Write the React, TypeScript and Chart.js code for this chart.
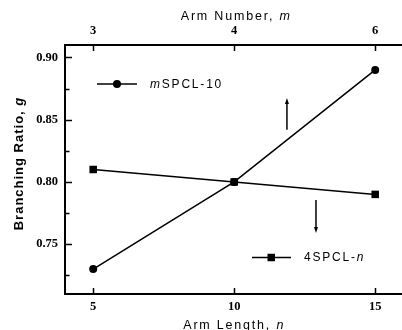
import React, { useEffect, useRef } from "react";
import { Chart, registerables } from "chart.js";

Chart.register(...registerables);

const armLength = [5, 10, 15];
const armNumberLabels = ["3", "4", "6"];
const mSPCL10 = [0.73, 0.8, 0.89];
const fourSPCLn = [0.81, 0.8, 0.79];
const yMajorTicks = [0.75, 0.8, 0.85, 0.9];
const yMinorTicks = [0.725, 0.775, 0.825, 0.875];

const SANS = '"Liberation Sans", Arial, sans-serif';
const SERIF = '"Liberation Serif", "Times New Roman", serif';

type Seg = { t: string; italic?: boolean };

function drawSegs(
  ctx: CanvasRenderingContext2D,
  segs: Seg[],
  x: number,
  y: number,
  size: number,
  bold: boolean,
  spacing: number,
  align: "left" | "center"
) {
  ctx.save();
  (ctx as any).letterSpacing = spacing + "px";
  ctx.textAlign = "left";
  ctx.fillStyle = "#000";
  const fontOf = (s: Seg) =>
    `${s.italic ? "italic " : ""}${bold ? "bold " : ""}${size}px ${SANS}`;
  let total = 0;
  const widths = segs.map((s) => {
    ctx.font = fontOf(s);
    const w = ctx.measureText(s.t).width;
    total += w;
    return w;
  });
  let cx = align === "center" ? x - total / 2 : x;
  segs.forEach((s, i) => {
    ctx.font = fontOf(s);
    ctx.fillText(s.t, cx, y);
    cx += widths[i];
  });
  ctx.restore();
}

const decorPlugin = {
  id: "decor",
  afterDraw(chart: any) {
    const ctx: CanvasRenderingContext2D = chart.ctx;
    const { left, top, bottom } = chart.chartArea;
    const edge = chart.width;
    const xs = chart.scales.x;
    const ys = chart.scales.y;
    ctx.save();
    ctx.strokeStyle = "#000";
    ctx.fillStyle = "#000";
    // frame
    ctx.lineWidth = 2;
    ctx.beginPath();
    ctx.moveTo(edge, top);
    ctx.lineTo(left, top);
    ctx.lineTo(left, bottom);
    ctx.lineTo(edge, bottom);
    ctx.stroke();
    // ticks
    ctx.lineWidth = 1.5;
    ctx.beginPath();
    yMajorTicks.forEach((v) => {
      const py = Math.round(ys.getPixelForValue(v)) + 0.5;
      ctx.moveTo(left, py);
      ctx.lineTo(left + 7, py);
    });
    yMinorTicks.forEach((v) => {
      const py = Math.round(ys.getPixelForValue(v)) + 0.5;
      ctx.moveTo(left, py);
      ctx.lineTo(left + 4.5, py);
    });
    armLength.forEach((v) => {
      const px = Math.round(xs.getPixelForValue(v)) + 0.5;
      ctx.moveTo(px, bottom);
      ctx.lineTo(px, bottom - 6);
      ctx.moveTo(px, top);
      ctx.lineTo(px, top + 6);
    });
    ctx.stroke();

    // arrows
    const arrow = (xv: number, y0: number, y1: number) => {
      const px = xs.getPixelForValue(xv);
      const p0 = ys.getPixelForValue(y0);
      const p1 = ys.getPixelForValue(y1);
      const dir = p1 < p0 ? -1 : 1;
      ctx.lineWidth = 1.5;
      ctx.beginPath();
      ctx.moveTo(px, p0);
      ctx.lineTo(px, p1 - dir * 4);
      ctx.stroke();
      ctx.beginPath();
      ctx.moveTo(px, p1);
      ctx.lineTo(px - 2, p1 - dir * 6);
      ctx.lineTo(px + 2, p1 - dir * 6);
      ctx.closePath();
      ctx.fill();
    };
    arrow(11.87, 0.842, 0.8675);
    arrow(12.9, 0.7856, 0.759);

    // legends
    const l1y = top + 39;
    ctx.lineWidth = 1.5;
    ctx.beginPath();
    ctx.moveTo(left + 32, l1y);
    ctx.lineTo(left + 72, l1y);
    ctx.stroke();
    ctx.beginPath();
    ctx.arc(left + 52, l1y, 4, 0, Math.PI * 2);
    ctx.fill();
    ctx.textBaseline = "middle";
    drawSegs(ctx, [{ t: "m", italic: true }, { t: "SPCL-10" }], left + 85, l1y + 0.5, 12, false, 1.8, "left");

    const l2y = top + 212.5;
    ctx.beginPath();
    ctx.moveTo(left + 187, l2y);
    ctx.lineTo(left + 226, l2y);
    ctx.stroke();
    ctx.fillRect(left + 202.5, l2y - 3.75, 7.5, 7.5);
    drawSegs(ctx, [{ t: "4SPCL-" }, { t: "n", italic: true }], left + 239, l2y + 0.5, 12, false, 1.8, "left");

    // axis titles
    ctx.textBaseline = "alphabetic";
    const cx = xs.getPixelForValue(10);
    drawSegs(ctx, [{ t: "Arm Number, " }, { t: "m", italic: true }], cx + 2, 20, 12.5, false, 1.8, "center");
    drawSegs(ctx, [{ t: "Arm Length, " }, { t: "n", italic: true }], cx, 329, 12.5, false, 1.8, "center");

    ctx.save();
    ctx.translate(23, (top + bottom) / 2 - 6);
    ctx.rotate(-Math.PI / 2);
    drawSegs(ctx, [{ t: "Branching Ratio, " }, { t: "g", italic: true }], 0, 0, 13, true, 1, "center");
    ctx.restore();

    ctx.restore();
  },
};

export default function App() {
  const ref = useRef<HTMLCanvasElement | null>(null);
  useEffect(() => {
    if (!ref.current) return;
    const tickFont = { family: SERIF, size: 12.5, weight: "bold" as const };
    const noPadX = (s: any) => {
      s.paddingLeft = 0;
      s.paddingRight = 0;
    };
    const chart = new Chart(ref.current, {
      type: "line",
      data: {
        datasets: [
          {
            label: "mSPCL-10",
            data: armLength.map((x, i) => ({ x, y: mSPCL10[i] })),
            borderColor: "#000",
            backgroundColor: "#000",
            borderWidth: 1.5,
            pointStyle: "circle",
            pointRadius: 4,
            pointBorderWidth: 0,
            tension: 0,
          },
          {
            label: "4SPCL-n",
            data: armLength.map((x, i) => ({ x, y: fourSPCLn[i] })),
            borderColor: "#000",
            backgroundColor: "#000",
            borderWidth: 1.5,
            pointStyle: "rect",
            pointRadius: 5.3,
            pointBorderWidth: 0,
            tension: 0,
          },
        ],
      },
      options: {
        responsive: false,
        animation: false,
        devicePixelRatio: 1,
        layout: { padding: 0, autoPadding: false },
        plugins: { legend: { display: false }, tooltip: { enabled: false } },
        scales: {
          x: {
            type: "linear",
            position: "bottom",
            min: 4,
            max: 15.95,
            grid: { display: false, drawTicks: false },
            border: { display: false },
            afterBuildTicks: (s: any) => {
              s.ticks = armLength.map((v) => ({ value: v }));
            },
            afterFit: (s: any) => {
              s.height = 36;
              noPadX(s);
            },
            ticks: {
              color: "#000",
              font: tickFont,
              padding: 5,
              maxRotation: 0,
              callback: (v: any) => String(v),
            },
          },
          x2: {
            type: "linear",
            position: "top",
            min: 4,
            max: 15.95,
            grid: { display: false, drawTicks: false },
            border: { display: false },
            afterBuildTicks: (s: any) => {
              s.ticks = armLength.map((v) => ({ value: v }));
            },
            afterFit: (s: any) => {
              s.height = 45;
              noPadX(s);
            },
            ticks: {
              color: "#000",
              font: tickFont,
              padding: 7,
              maxRotation: 0,
              callback: (v: any) => {
                const i = armLength.indexOf(Number(v));
                return i >= 0 ? armNumberLabels[i] : "";
              },
            },
          },
          y: {
            type: "linear",
            min: 0.71,
            max: 0.91,
            grid: { display: false, drawTicks: false },
            border: { display: false },
            afterBuildTicks: (s: any) => {
              s.ticks = yMajorTicks.map((v) => ({ value: v }));
            },
            afterFit: (s: any) => {
              s.width = 65;
              s.paddingTop = 0;
              s.paddingBottom = 0;
            },
            ticks: {
              color: "#000",
              font: tickFont,
              padding: 7,
              callback: (v: any) => Number(v).toFixed(2),
            },
          },
        },
      },
      plugins: [decorPlugin],
    } as any);
    return () => chart.destroy();
  }, []);
  return (
    <div style={{ position: "absolute", left: 0, top: 0, width: 402, height: 330, background: "#fff" }}>
      <canvas ref={ref} width={402} height={330} style={{ display: "block" }} />
    </div>
  );
}
